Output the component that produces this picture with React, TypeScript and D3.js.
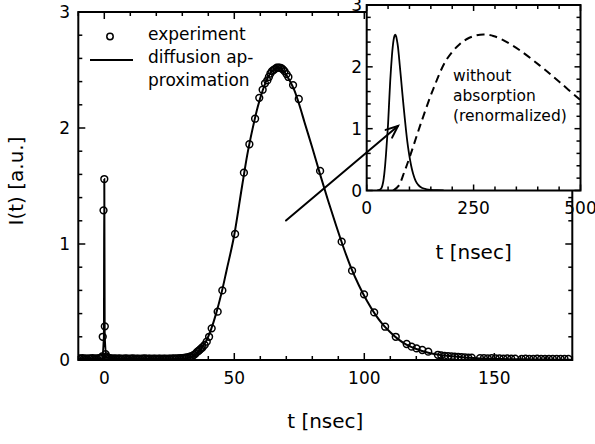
import React from "react";
import * as d3 from "d3";

// ---- data ----
// experiment (circles): flat pre-signal baseline
const baseT: number[] = [
  -9.8, -9.2, -8.5, -7.9, -7.2, -6.6, -5.9, -5.3, -4.6, -4.0, -3.3, -2.7, -2.0, -1.4,
  1.4, 2.0, 2.7, 3.3, 4.0, 4.6, 5.3, 5.9, 6.6, 7.2, 7.9, 8.5, 9.2, 9.8, 10.5, 11.1, 11.8,
  12.4, 13.1, 13.7, 14.4, 15.0, 15.7, 16.3, 17.0, 17.6, 18.3, 18.9, 19.6, 20.2, 20.9, 21.5,
  22.2, 22.8, 23.5, 24.1, 24.8, 25.4, 26.1, 26.7, 27.4, 28.0, 28.7, 29.3, 30.0, 30.6, 31.3,
  31.9, 32.6,
];
const baseI: number[] = [
  0.013, 0.011, 0.015, 0.012, 0.014, 0.01, 0.013, 0.012, 0.015, 0.011, 0.013, 0.012, 0.016, 0.018,
  0.02, 0.016, 0.014, 0.012, 0.013, 0.011, 0.012, 0.014, 0.01, 0.012, 0.011, 0.013, 0.01, 0.012,
  0.011, 0.013, 0.01, 0.012, 0.011, 0.01, 0.012, 0.011, 0.013, 0.01, 0.011, 0.012, 0.01, 0.011,
  0.012, 0.01, 0.011, 0.012, 0.01, 0.011, 0.012, 0.01, 0.012, 0.011, 0.012, 0.013, 0.012, 0.014,
  0.013, 0.015, 0.016, 0.018, 0.02, 0.022, 0.026,
];
// experiment (circles): laser spike and transmitted pulse
const expT: number[] = [
  -0.8, -0.6, -0.3, 0.0, 0.2, 0.5, 0.8, 33.2, 33.9, 34.5, 35.1, 35.7, 36.3, 36.8, 37.3,
  37.8, 38.6, 39.4, 40.3, 41.3, 43.6, 45.4, 50.3, 53.7, 55.8, 58.0, 59.6, 60.9, 61.8,
  62.7, 63.3, 63.9, 64.5, 65.1, 65.7, 66.3, 66.9, 67.5, 68.1, 68.7, 69.3, 70.1, 70.8,
  72.6, 74.8, 83.0, 91.3, 95.3, 99.9, 103.8, 108.0, 112.1, 116.3, 118.2, 120.1, 122.3,
  124.6, 128.3, 129.6, 130.9, 132.2, 133.5, 134.8, 136.1, 137.4, 138.7, 140.0, 141.3,
  144.5, 146.0, 147.5, 149.0, 150.5, 152.0, 153.5, 155.0, 156.5, 158.0, 160.5, 162.0,
  163.5, 165.0, 166.5, 168.0, 169.5, 171.0, 172.5, 174.0, 175.5, 177.0, 178.5,
];
const expI: number[] = [
  0.03, 0.2, 1.29, 1.56, 0.29, 0.05, 0.03, 0.03, 0.035, 0.045, 0.055, 0.07, 0.08, 0.09, 0.1,
  0.11, 0.13, 0.158, 0.2, 0.273, 0.417, 0.6, 1.086, 1.615, 1.86, 2.08, 2.26, 2.33, 2.385,
  2.41, 2.44, 2.47, 2.49, 2.5, 2.51, 2.52, 2.52, 2.52, 2.515, 2.505, 2.49, 2.465, 2.44,
  2.37, 2.25, 1.63, 1.02, 0.77, 0.566, 0.41, 0.287, 0.2, 0.138, 0.115, 0.1, 0.086,
  0.072, 0.045, 0.04, 0.036, 0.033, 0.03, 0.028, 0.026, 0.024, 0.022, 0.021, 0.02,
  0.016, 0.015, 0.014, 0.015, 0.013, 0.014, 0.012, 0.013, 0.012, 0.011, 0.01, 0.011,
  0.009, 0.01, 0.011, 0.009, 0.01, 0.009, 0.01, 0.009, 0.01, 0.009, 0.01,
];
// diffusion approximation (solid line)
const modT: number[] = [
  -10, -1, -0.15, 0, 0.15, 1, 10, 25, 30, 33, 35, 37, 39, 41, 43, 45, 47, 50, 53, 55, 57,
  59, 61, 63, 65, 67, 69, 71, 73, 75, 77, 80, 83, 86, 89, 92, 95, 98, 101, 104, 107, 110,
  113, 116, 120, 125, 130, 140, 150, 165, 180,
];
const modI: number[] = [
  0.012, 0.012, 0.2, 1.56, 0.2, 0.02, 0.01, 0.006, 0.01, 0.025, 0.045, 0.09, 0.155, 0.26,
  0.4, 0.57, 0.77, 1.08, 1.5, 1.77, 1.99, 2.18, 2.33, 2.44, 2.5, 2.52, 2.49, 2.42, 2.33,
  2.2, 2.05, 1.83, 1.6, 1.38, 1.17, 0.97, 0.79, 0.64, 0.51, 0.4, 0.31, 0.24, 0.18, 0.135,
  0.095, 0.06, 0.04, 0.02, 0.01, 0.005, 0.003,
];
// without absorption (dashed, inset)
const noAbsT: number[] = [62, 75, 88, 101, 124.5, 155.6, 187, 218, 240, 265, 296, 342.5, 405, 451.6, 500];
const noAbsI: number[] = [0, 0.08, 0.3, 0.55, 1.04, 1.64, 2.12, 2.37, 2.47, 2.52, 2.5, 2.34, 2.02, 1.75, 1.46];

const mainXMajor = [0, 50, 100, 150];
const mainYMajor = [0, 1, 2, 3];
const insetXMajor = [0, 250, 500];
const insetYMajor = [0, 1, 2, 3];

const legendLabels = ["experiment", "diffusion ap-", "proximation"];
const insetNote = ["without", "absorption", "(renormalized)"];
const xLabel = "t [nsec]";
const yLabel = "I(t) [a.u.]";

const FONT = "'DejaVu Sans', 'Liberation Sans', Arial, sans-serif";

export default function App() {
  // main scales
  const x = d3.scaleLinear().domain([-10, 180]).range([78.3, 572.3]);
  const y = d3.scaleLinear().domain([0, 3]).range([360, 12]);
  // inset scales
  const xi = d3.scaleLinear().domain([0, 500]).range([366.7, 580.5]);
  const yi = d3.scaleLinear().domain([0, 3]).range([190.5, 5]);

  const modPts: [number, number][] = modT.map((t, i) => [t, modI[i]]);
  const line = d3
    .line<[number, number]>()
    .x((d) => x(d[0]))
    .y((d) => y(d[1]))
    .curve(d3.curveMonotoneX);
  const lineI = d3
    .line<[number, number]>()
    .x((d) => xi(d[0]))
    .y((d) => yi(d[1]))
    .curve(d3.curveMonotoneX);
  const noAbsPts: [number, number][] = noAbsT.map((t, i) => [t, noAbsI[i]]);
  const lineDash = d3
    .line<[number, number]>()
    .x((d) => xi(d[0]))
    .y((d) => yi(d[1]))
    .curve(d3.curveCatmullRom);

  const allT = baseT.concat(expT);
  const allI = baseI.concat(expI);

  const [x0, x1] = x.range();
  const [y0, y1] = y.range();
  const [ix0, ix1] = xi.range();
  const [iy0, iy1] = yi.range();

  const mainXMinor = d3.range(-10, 181, 10).filter((v) => !mainXMajor.includes(v));
  const mainYMinor = d3.range(0, 3.001, 0.2).map((v) => +v.toFixed(1)).filter((v) => !mainYMajor.includes(v));
  const insetXMinor = d3.range(0, 501, 50).filter((v) => !insetXMajor.includes(v));
  const insetYMinor = d3.range(0, 3.001, 0.2).map((v) => +v.toFixed(1)).filter((v) => !insetYMajor.includes(v));

  const ticksX = (sx: any, vals: number[], len: number, yb: number, yt: number) =>
    vals.map((v, i) => (
      <g key={"tx" + len + i}>
        <line x1={sx(v)} x2={sx(v)} y1={yb} y2={yb - len} />
        <line x1={sx(v)} x2={sx(v)} y1={yt} y2={yt + len} />
      </g>
    ));
  const ticksY = (sy: any, vals: number[], len: number, xl: number, xr: number) =>
    vals.map((v, i) => (
      <g key={"ty" + len + i}>
        <line x1={xl} x2={xl + len} y1={sy(v)} y2={sy(v)} />
        <line x1={xr} x2={xr - len} y1={sy(v)} y2={sy(v)} />
      </g>
    ));

  // arrow
  const ax0 = 286, ay0 = 220.5, ax1 = 398, ay1 = 126;
  const ang = Math.atan2(ay1 - ay0, ax1 - ax0);
  const hl = 13, ha = 0.4;
  const w1 = [ax1 - hl * Math.cos(ang - ha), ay1 - hl * Math.sin(ang - ha)];
  const w2 = [ax1 - hl * Math.cos(ang + ha), ay1 - hl * Math.sin(ang + ha)];

  return (
    <svg
      width={595}
      height={444}
      style={{ position: "absolute", left: 0, top: 0, background: "#fff" }}
      fontFamily={FONT}
    >
      <defs>
        <clipPath id="mainClip">
          <rect x={x0} y={y1} width={x1 - x0} height={y0 - y1} />
        </clipPath>
        <clipPath id="insetClip">
          <rect x={ix0} y={iy1} width={ix1 - ix0} height={iy0 - iy1} />
        </clipPath>
      </defs>
      <rect x={0} y={0} width={595} height={444} fill="#fff" />

      {/* main data */}
      <g clipPath="url(#mainClip)">
        <path d={line(modPts) || ""} fill="none" stroke="#000" strokeWidth={2} />
        {allT.map((t, i) => (
          <circle key={i} cx={x(t)} cy={y(allI[i])} r={3.4} fill="none" stroke="#000" strokeWidth={1.5} />
        ))}
      </g>

      {/* main axes */}
      <g stroke="#000" strokeWidth={1.5}>
        <rect x={x0} y={y1} width={x1 - x0} height={y0 - y1} fill="none" strokeWidth={2} />
        {ticksX(x, mainXMajor, 7, y0, y1)}
        {ticksX(x, mainXMinor, 4, y0, y1)}
        {ticksY(y, mainYMajor, 7, x0, x1)}
        {ticksY(y, mainYMinor, 4, x0, x1)}
      </g>
      <g fontSize={17} fill="#000">
        {mainXMajor.map((v) => (
          <text key={"xl" + v} x={x(v)} y={383.5} textAnchor="middle">
            {v}
          </text>
        ))}
        {mainYMajor.map((v) => (
          <text key={"yl" + v} x={70} y={y(v)} dy="0.36em" textAnchor="end">
            {v}
          </text>
        ))}
      </g>
      <text x={(x0 + x1) / 2} y={428} fontSize={20} textAnchor="middle">
        {xLabel}
      </text>
      <text transform="translate(23,181) rotate(-90)" fontSize={20} textAnchor="middle">
        {yLabel}
      </text>

      {/* legend */}
      <circle cx={110} cy={36.5} r={3.2} fill="none" stroke="#000" strokeWidth={1.5} />
      <line x1={90} x2={133} y1={60} y2={60} stroke="#000" strokeWidth={2} />
      <g fontSize={17}>
        <text x={148} y={40}>{legendLabels[0]}</text>
        <text x={148} y={63}>{legendLabels[1]}</text>
        <text x={148} y={86}>{legendLabels[2]}</text>
      </g>

      {/* inset */}
      <rect x={ix0} y={iy1} width={ix1 - ix0} height={iy0 - iy1} fill="#fff" />
      <g clipPath="url(#insetClip)">
        <path
          d={lineI(modPts.filter((p) => p[0] >= 20)) || ""}
          fill="none"
          stroke="#000"
          strokeWidth={1.8}
        />
        <path d={lineDash(noAbsPts) || ""} fill="none" stroke="#000" strokeWidth={2} strokeDasharray="8,5" />
      </g>
      <g stroke="#000" strokeWidth={1.5}>
        <rect x={ix0} y={iy1} width={ix1 - ix0} height={iy0 - iy1} fill="none" strokeWidth={2} />
        {ticksX(xi, insetXMajor, 6, iy0, iy1)}
        {ticksX(xi, insetXMinor, 4, iy0, iy1)}
        {ticksY(yi, insetYMajor, 6, ix0, ix1)}
        {ticksY(yi, insetYMinor, 4, ix0, ix1)}
      </g>
      <g fontSize={17} fill="#000">
        {insetXMajor.map((v) => (
          <text key={"ixl" + v} x={xi(v)} y={214} textAnchor="middle">
            {v}
          </text>
        ))}
        {insetYMajor.map((v) => (
          <text key={"iyl" + v} x={362} y={yi(v)} dy="0.36em" textAnchor="end">
            {v}
          </text>
        ))}
      </g>
      <text x={(ix0 + ix1) / 2} y={259} fontSize={20} textAnchor="middle">
        {xLabel}
      </text>
      <g fontSize={15.5}>
        <text x={453} y={81}>{insetNote[0]}</text>
        <text x={453} y={101}>{insetNote[1]}</text>
        <text x={453} y={121}>{insetNote[2]}</text>
      </g>

      {/* arrow */}
      <g stroke="#000" strokeWidth={2} fill="none" strokeLinecap="round">
        <line x1={ax0} y1={ay0} x2={ax1} y2={ay1} />
        <polyline points={`${w1[0]},${w1[1]} ${ax1},${ay1} ${w2[0]},${w2[1]}`} />
      </g>
    </svg>
  );
}
